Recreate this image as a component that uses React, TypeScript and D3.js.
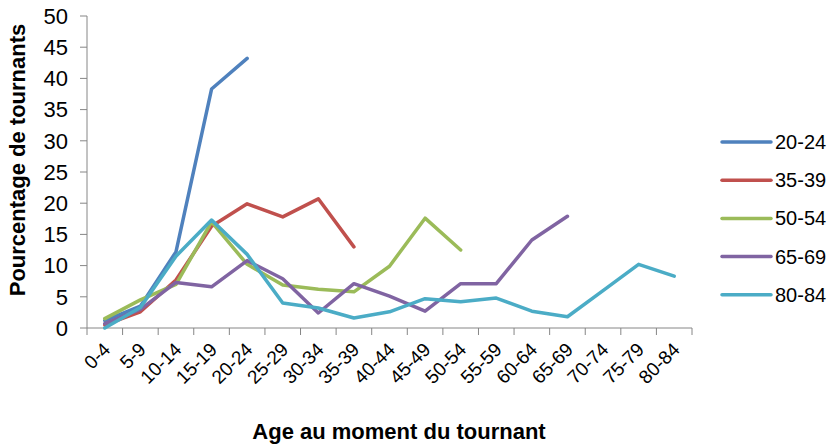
import React from "react";
import * as d3 from "d3";

const categories = ["0-4","5-9","10-14","15-19","20-24","25-29","30-34","35-39","40-44","45-49","50-54","55-59","60-64","65-69","70-74","75-79","80-84"];
const yTicks = [0,5,10,15,20,25,30,35,40,45,50];

const s2024 = [1.2, 3.5, 12.2, 38.3, 43.2];
const s3539 = [0.5, 2.6, 7.7, 16.3, 19.9, 17.8, 20.7, 13.0];
const s5054 = [1.5, 4.5, 7.0, 17.0, 10.2, 6.9, 6.2, 5.8, 9.9, 17.6, 12.5];
const s6569 = [0.7, 3.0, 7.3, 6.6, 10.8, 7.9, 2.4, 7.1, 5.1, 2.7, 7.1, 7.1, 14.1, 17.9];
const s8084 = [0.0, 3.3, 11.5, 17.3, 11.8, 4.0, 3.2, 1.6, 2.6, 4.7, 4.2, 4.8, 2.7, 1.8, 6.0, 10.2, 8.3];

const seriesNames = ["20-24","35-39","50-54","65-69","80-84"];
const seriesValues = [s2024, s3539, s5054, s6569, s8084];
const colors = ["#4F81BD","#C0504D","#9BBB59","#8064A2","#4BACC6"];

export default function App() {
  const W = 837, H = 446;
  const left = 87, right = 692, top = 16, bottom = 328;
  const x = d3.scaleBand<string>().domain(categories).range([left, right]);
  const y = d3.scaleLinear().domain([0, 50]).range([bottom, top]);
  const line = d3.line<number>()
    .x((_, i) => (x(categories[i]) as number) + x.bandwidth() / 2)
    .y((d) => y(d));
  const font = "Liberation Sans, Arial, sans-serif";
  const axisColor = "#868686";
  return (
    <svg width={W} height={H} style={{ position: "absolute", left: 0, top: 0 }} fontFamily={font}>
      <rect width={W} height={H} fill="#fff" />
      {/* y axis */}
      <line x1={left} x2={left} y1={top} y2={bottom} stroke={axisColor} strokeWidth={1} />
      {yTicks.map((t) => (
        <g key={t}>
          <line x1={left - 7} x2={left} y1={y(t)} y2={y(t)} stroke={axisColor} />
          <text x={68} y={y(t)} dy="0.35em" textAnchor="end" fontSize={22} fill="#000">{t}</text>
        </g>
      ))}
      {/* x axis */}
      <line x1={left} x2={right} y1={bottom} y2={bottom} stroke={axisColor} />
      {d3.range(categories.length + 1).map((i) => {
        const xx = left + i * x.step();
        return <line key={i} x1={xx} x2={xx} y1={bottom} y2={bottom + 7} stroke={axisColor} />;
      })}
      {categories.map((c) => {
        const cx = (x(c) as number) + x.bandwidth() / 2 + 2;
        const cy = bottom + 18;
        return (
          <text key={c} x={cx} y={cy} transform={`rotate(-45, ${cx}, ${cy})`} textAnchor="end" dy="0.35em" fontSize={19} fill="#000">{c}</text>
        );
      })}
      {/* series */}
      {seriesValues.map((vals, i) => (
        <path key={i} d={line(vals) || ""} fill="none" stroke={colors[i]} strokeWidth={3.5} strokeLinejoin="round" strokeLinecap="round" />
      ))}
      {/* titles */}
      <text x={17} y={160} transform="rotate(-90, 17, 160)" textAnchor="middle" dy="0.35em" fontSize={22} fontWeight="bold" fill="#000">Pourcentage de tournants</text>
      <text x={399} y={439} textAnchor="middle" fontSize={22} fontWeight="bold" fill="#000">Age au moment du tournant</text>
      {/* legend */}
      {seriesNames.map((n, i) => {
        const ly = 142 + i * 38.2;
        return (
          <g key={n}>
            <line x1={722} x2={771} y1={ly} y2={ly} stroke={colors[i]} strokeWidth={3.5} strokeLinecap="round" />
            <text x={775} y={ly} dy="0.35em" fontSize={20} fill="#000">{n}</text>
          </g>
        );
      })}
    </svg>
  );
}
